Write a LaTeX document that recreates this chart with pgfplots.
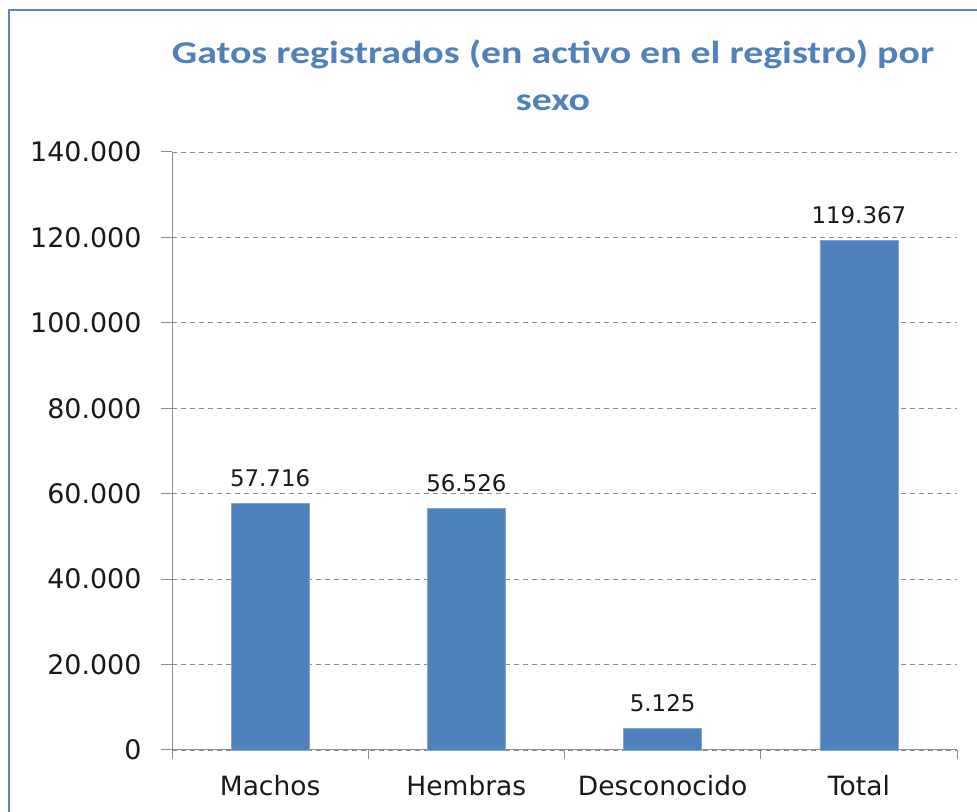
\documentclass[border=0pt]{standalone}
\usepackage{pgfplots}
\pgfplotsset{compat=1.18}
\usepackage{fontspec}
\setmainfont{DejaVu Sans}
\newfontfamily\titlefont[FakeStretch=1.25]{Carlito}
\definecolor{barblue}{HTML}{4F81BD}
\definecolor{framecol}{HTML}{5A86C2}
\definecolor{axgray}{HTML}{8C8C8C}
\begin{document}
\begin{tikzpicture}[x=1bp,y=1bp]
\useasboundingbox[fill=white] (0,0) rectangle (977,812);
\draw[framecol, line width=2.5bp] (9,-5) -- (9,802) -- (985,802);
\node[font=\titlefont\bfseries\fontsize{32}{38}\selectfont, text=barblue, anchor=base] at (553,748) {Gatos registrados (en activo en el registro) por};
\node[font=\titlefont\bfseries\fontsize{32}{38}\selectfont, text=barblue, anchor=base] at (553,701) {sexo};
\begin{axis}[
  at={(172bp,62bp)}, anchor=south west,
  scale only axis, width=785bp, height=598bp,
  xmin=-0.5, xmax=3.5, ymin=0, ymax=140000,
  axis lines=left, axis line style={-, axgray, line width=1bp},
  xtick={0,1,2,3}, xticklabels={Machos,Hembras,Desconocido,Total},
  major x tick style={draw=none},
  minor xtick={-0.5,0.5,1.5,2.5,3.5},
  minor x tick style={axgray, line width=1bp},
  minor tick length=9bp,
  ytick={0,20000,...,140000},
  y tick style={axgray, line width=1bp},
  major tick length=11bp,
  tick align=outside,
  ymajorgrids, major grid style={dash pattern=on 5bp off 4bp, axgray, line width=0.8bp},
  yticklabel style={font=\fontsize{27}{30}\selectfont, text=black!90, xshift=-16bp},
  xticklabel style={font=\fontsize{26.6}{30}\selectfont, text=black!90, anchor=base, yshift=-35bp},
  /pgf/number format/assume math mode=true,
  /pgf/number format/.cd, fixed, 1000 sep={.}, precision=0, /pgfplots/.cd,
  scaled y ticks=false,
  clip=false,
  nodes near coords,
  every node near coord/.append style={font=\fontsize{23}{26}\selectfont, text=black!90, anchor=base, inner sep=0pt, yshift=17bp,
    /pgf/number format/.cd, fixed, 1000 sep={.}, precision=0, assume math mode=true},
]
\addplot[ybar, bar width=78bp, fill=barblue, draw=barblue!70!white, line width=0.5bp] coordinates {(0,57716) (1,56526) (2,5125) (3,119367)};
\end{axis}
\end{tikzpicture}
\end{document}
